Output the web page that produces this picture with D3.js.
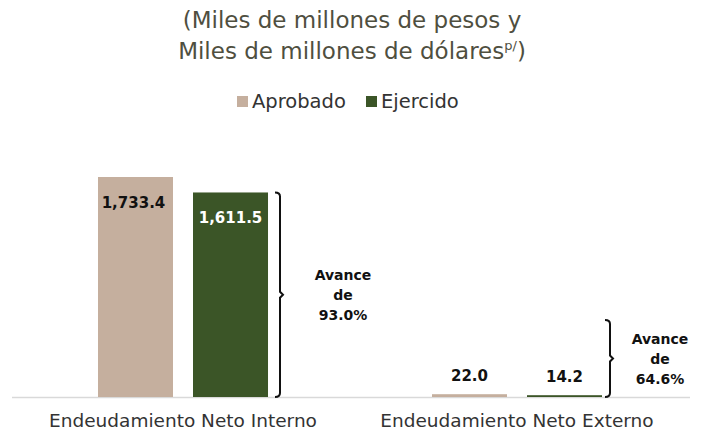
<!DOCTYPE html>
<html>
<head>
<meta charset="utf-8">
<script src="https://cdn.jsdelivr.net/npm/d3@7"></script>
<style>
  body { margin: 0; background: #fff; }
  svg { display: block; }
</style>
</head>
<body>
<div id="chart"></div>
<script>
// data
var categories = ["Endeudamiento Neto Interno", "Endeudamiento Neto Externo"];
var seriesNames = ["Aprobado", "Ejercido"];
var aprobado = [1733.4, 22.0];
var ejercido = [1611.5, 14.2];
var avance = ["93.0%", "64.6%"];

var colors = ["#c5af9e", "#3b5527"];
var width = 702, height = 433;
var base = 397;
var font = "'DejaVu Sans', sans-serif";

var svg = d3.select("#chart").append("svg")
    .attr("width", width)
    .attr("height", height);

// title
var title = svg.append("text")
    .attr("text-anchor", "middle")
    .attr("font-family", font)
    .attr("font-size", 23)
    .attr("fill", "#4f4f3f");
title.append("tspan").attr("x", 352).attr("y", 28).text("(Miles de millones de pesos y");
title.append("tspan").attr("x", 352).attr("y", 59).text("Miles de millones de dólares");
title.append("tspan").attr("font-size", 13).attr("dy", -9).text("p/");
title.append("tspan").attr("dy", 9).text(")");

// legend
var legend = svg.append("g").attr("font-family", font).attr("font-size", 19.5).attr("fill", "#333");
var legX = [237, 366];
seriesNames.forEach(function (name, i) {
  legend.append("rect")
      .attr("x", legX[i]).attr("y", 96)
      .attr("width", 11).attr("height", 11)
      .attr("fill", colors[i]);
  legend.append("text")
      .attr("x", legX[i] + 15).attr("y", 108)
      .text(name);
});

// scales
var x0 = d3.scaleBand().domain(categories).range([16, 684]);
var x1 = d3.scaleBand().domain(seriesNames).range([0, x0.bandwidth()]).paddingInner(0.2105).paddingOuter(0.863);
var y = d3.scaleLinear().domain([0, 1733.4]).range([base, 177]);

// baseline
svg.append("line")
    .attr("x1", 12).attr("x2", 690)
    .attr("y1", base + 0.5).attr("y2", base + 0.5)
    .attr("stroke", "#d9d9d9").attr("stroke-width", 1.5);

var rows = categories.map(function (c, i) {
  return { cat: c, values: [aprobado[i], ejercido[i]], avance: avance[i] };
});

var groups = svg.selectAll(".grp").data(rows).enter().append("g")
    .attr("class", "grp")
    .attr("transform", function (d) { return "translate(" + x0(d.cat) + ",0)"; });

groups.selectAll("rect").data(function (d) {
    return d.values.map(function (v, j) { return { name: seriesNames[j], v: v, j: j }; });
  }).enter().append("rect")
    .attr("x", function (d) { return x1(d.name); })
    .attr("y", function (d) { return y(d.v); })
    .attr("width", x1.bandwidth())
    .attr("height", function (d) { return base - y(d.v); })
    .attr("fill", function (d) { return colors[d.j]; });

// value labels
var fmt = d3.format(",.1f");
groups.each(function (d, i) {
  var g = d3.select(this);
  d.values.forEach(function (v, j) {
    var big = base - y(v) > 40;
    g.append("text")
        .attr("x", x1(seriesNames[j]) + x1.bandwidth() / 2 - (big && j == 0 ? 2 : 0))
        .attr("y", big ? y(v) + 31 : y(v) - 13)
        .attr("text-anchor", "middle")
        .attr("font-family", font)
        .attr("font-weight", "bold")
        .attr("font-size", 15)
        .attr("fill", big && j == 1 ? "#fff" : "#111")
        .text(fmt(v));
  });
});

// brackets and "Avance" notes
var bracketX = [280, 610];
var bracketTop = [y(ejercido[0]), 320];
var noteX = [343, 660];
rows.forEach(function (d, i) {
  var bx = bracketX[i], top = bracketTop[i], mid = (top + base) / 2;
  var p = d3.path();
  p.moveTo(bx - 5, top);
  p.quadraticCurveTo(bx, top, bx, top + 4);
  p.lineTo(bx, mid - 3);
  p.lineTo(bx + 3, mid);
  p.lineTo(bx, mid + 3);
  p.lineTo(bx, base - 4);
  p.quadraticCurveTo(bx, base, bx - 5, base);
  svg.append("path").attr("d", p.toString())
      .attr("fill", "none").attr("stroke", "#111").attr("stroke-width", 2);

  var note = svg.append("text")
      .attr("text-anchor", "middle")
      .attr("font-family", font)
      .attr("font-weight", "bold")
      .attr("font-size", 14)
      .attr("fill", "#111");
  ["Avance", "de", d.avance].forEach(function (s, k) {
    note.append("tspan").attr("x", noteX[i]).attr("y", mid - 15 + k * 20).text(s);
  });
});

// category labels
svg.selectAll(".cat").data(categories).enter().append("text")
    .attr("class", "cat")
    .attr("x", function (d) { return x0(d) + x0.bandwidth() / 2; })
    .attr("y", 427)
    .attr("text-anchor", "middle")
    .attr("font-family", font)
    .attr("font-size", 18.5)
    .attr("fill", "#333")
    .text(function (d) { return d; });
</script>
</body>
</html>
